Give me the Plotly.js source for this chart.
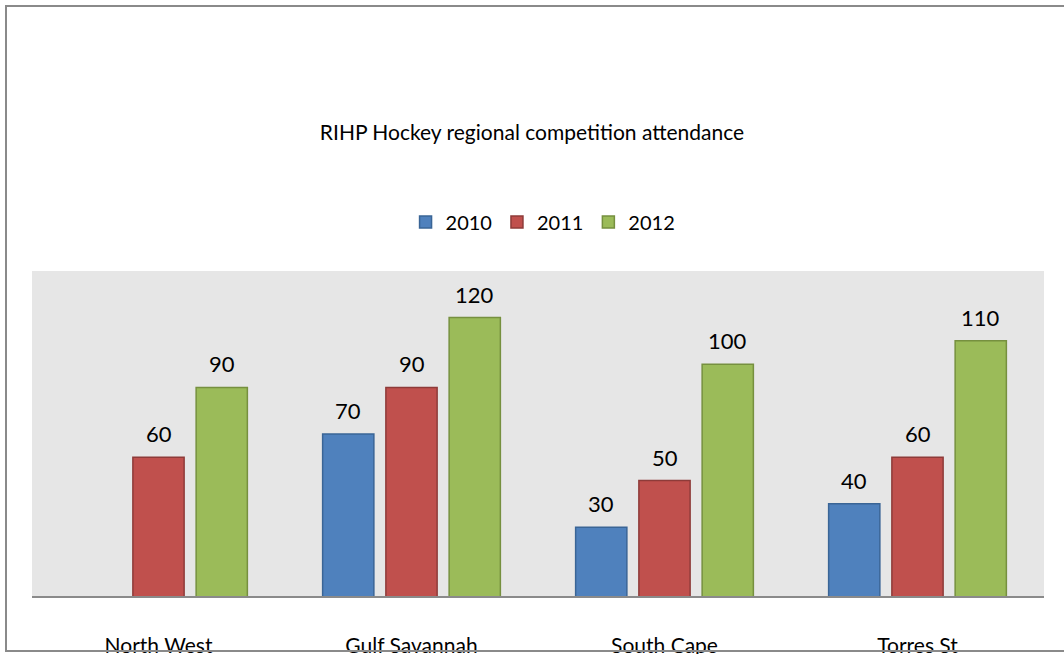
<!DOCTYPE html>
<html>
<head>
<meta charset="utf-8">
<script src="https://cdn.plot.ly/plotly-3.0.1.min.js"></script>
<style>
html,body{margin:0;padding:0;background:#fff;overflow:hidden;width:1064px;height:654px;}
#chart{width:1064px;height:654px;position:absolute;left:0;top:0;}
#mask{position:absolute;left:1045px;top:262px;width:19px;height:345px;background:#fff;pointer-events:none;}
#frame{position:absolute;left:5px;top:5px;width:1059px;height:647px;border:2px solid #8a8a8a;border-right:none;pointer-events:none;box-sizing:border-box;}
</style>
</head>
<body>
<div id="chart"></div>
<div id="mask"></div>
<div id="frame"></div>
<script>
var categories = ["North West", "Gulf Savannah", "South Cape", "Torres St"];
var seriesNames = ["2010", "2011", "2012"];
var values2010 = [null, 70, 30, 40];
var values2011 = [60, 90, 50, 60];
var values2012 = [90, 120, 100, 110];

var allValues = [values2010, values2011, values2012];
var fills = ["#4F81BD", "#C0504D", "#9BBB59"];
var outlines = ["#3A6596", "#8E3B39", "#76903F"];
var fontFam = "Lato, 'Open Sans', 'Liberation Sans', sans-serif";

var traces = allValues.map(function(vals, i){
  return {
    type: "bar",
    name: seriesNames[i],
    x: categories,
    y: vals,
    marker: {color: fills[i], line: {color: outlines[i], width: 1.5}},
    hoverinfo: "x+y"
  };
});

// data labels as annotations, offset per series within the group
var slotOffsets = [-1, 0, 1];
var annotations = [];
allValues.forEach(function(vals, i){
  vals.forEach(function(v, j){
    if (v == null) return;
    annotations.push({
      x: j + slotOffsets[i] * 0.25, xref: "x",
      y: v, yref: "y",
      text: String(v),
      showarrow: false,
      yanchor: "bottom",
      yshift: 8,
      font: {size: 22, color: "#000", family: fontFam}
    });
  });
});

var layout = {
  width: 1064, height: 654,
  margin: {l: 32, r: 20, t: 271, b: 57, autoexpand: false},
  paper_bgcolor: "#ffffff",
  plot_bgcolor: "#E6E6E6",
  barmode: "group",
  bargap: 0.25,
  bargroupgap: 0.19,
  showlegend: true,
  annotations: annotations,
  shapes: [
    {type: "line", xref: "paper", yref: "paper", x0: 0, x1: 1, y0: 0, y1: 0,
     line: {color: "#8a8a8a", width: 2}, layer: "above"}
  ],
  title: {
    text: "RIHP Hockey regional competition attendance",
    font: {size: 21, color: "#000", family: fontFam},
    x: 0.5, xanchor: "center", xref: "container",
    y: 1 - 133/654, yanchor: "middle", yref: "container"
  },
  legend: {
    orientation: "h",
    x: 0.505, xanchor: "center",
    y: 1.15, yanchor: "middle",
    font: {size: 20, color: "#000", family: fontFam},
    itemwidth: 30,
    traceorder: "normal",
    bgcolor: "rgba(0,0,0,0)"
  },
  xaxis: {
    type: "category",
    range: [-0.5, 3.5],
    showline: false,
    ticks: "", showgrid: false, zeroline: false,
    ticklabelstandoff: 34,
    tickfont: {size: 21, color: "#000", family: fontFam}
  },
  yaxis: {
    range: [0, 140],
    showticklabels: false, ticks: "", showgrid: false, zeroline: false, showline: false
  },
  font: {family: fontFam, color: "#000"}
};

Plotly.newPlot("chart", traces, layout, {displayModeBar: false, staticPlot: true});
</script>
</body>
</html>
